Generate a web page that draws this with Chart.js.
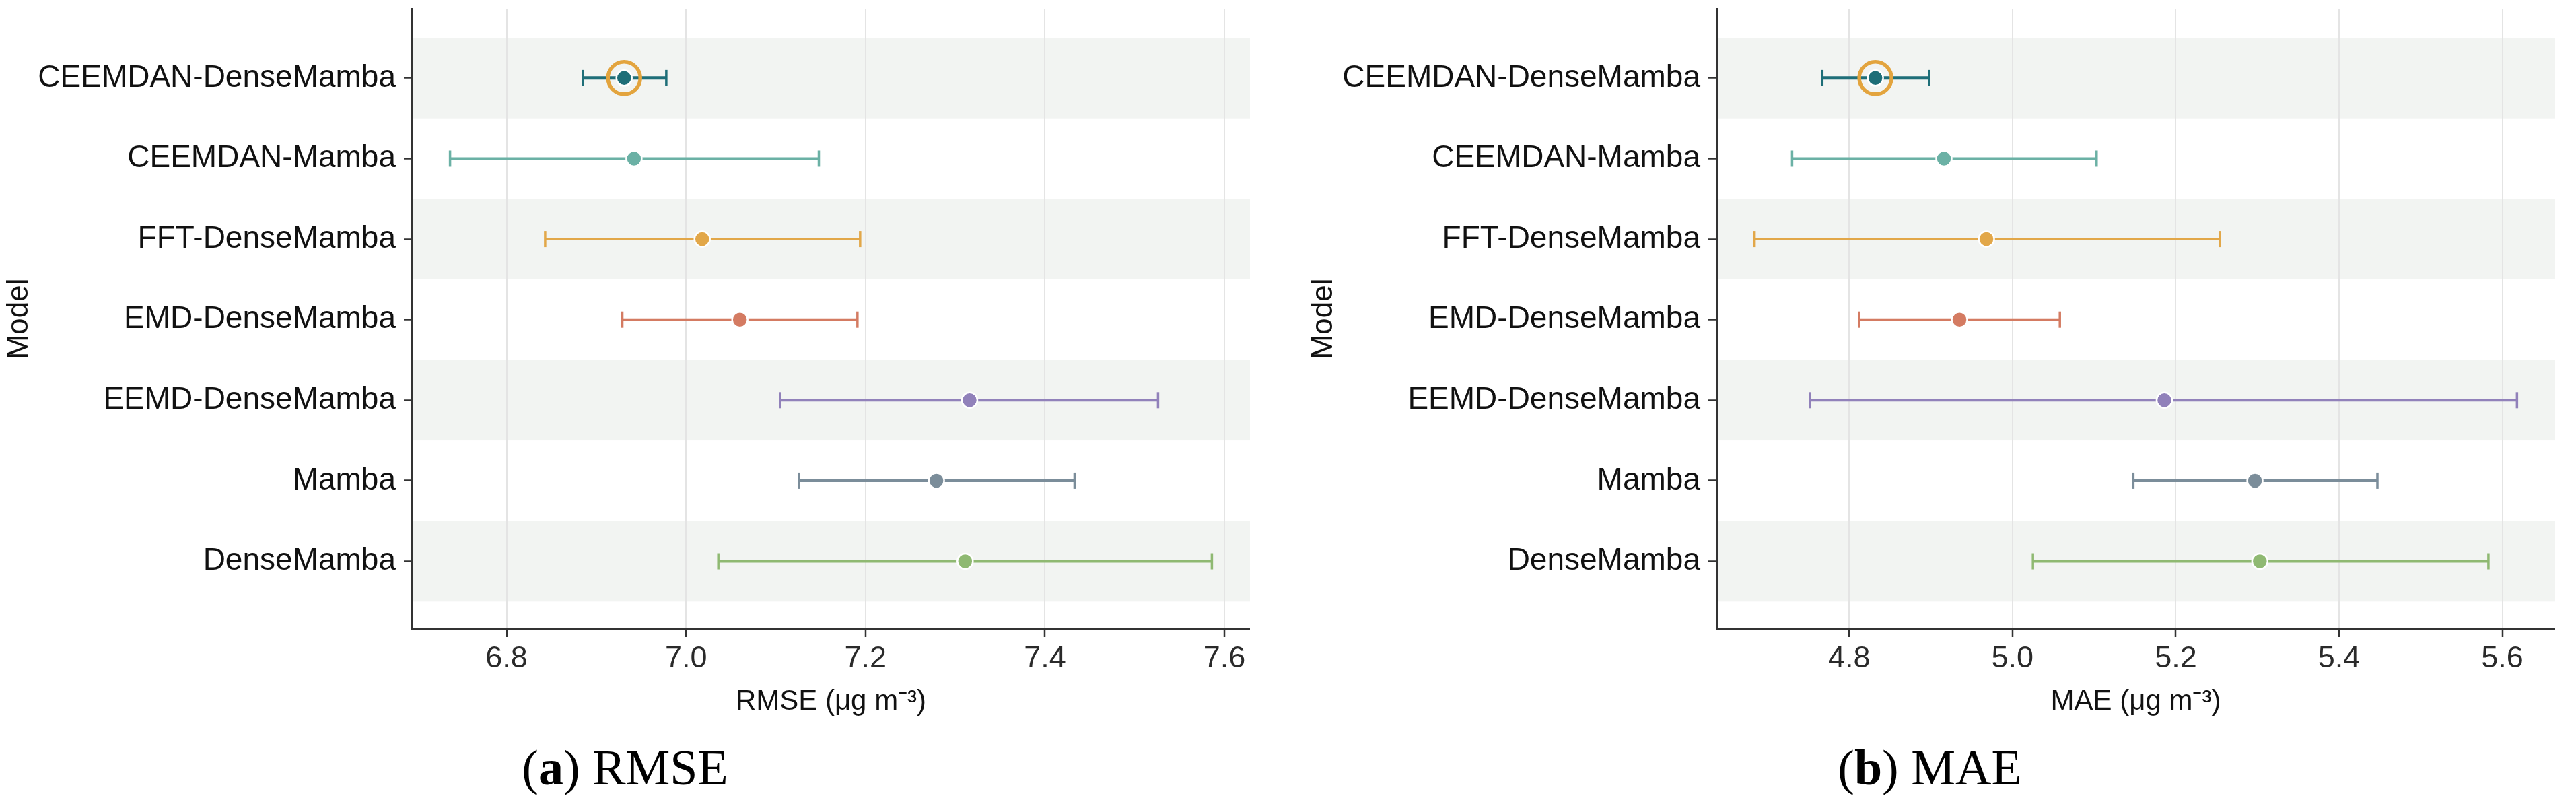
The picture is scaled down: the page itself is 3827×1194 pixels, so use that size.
<!DOCTYPE html>
<html>
<head>
<meta charset="utf-8">
<script src="https://cdn.jsdelivr.net/npm/chart.js@4.4.1/dist/chart.umd.min.js"></script>
<style>
  html, body { margin: 0; padding: 0; background: #ffffff; }
  body { width: 3827px; height: 1194px; position: relative; overflow: hidden; }
  canvas { position: absolute; top: 0; }
  .cap { position: absolute; top: 1103px; font-family: 'Liberation Serif', 'DejaVu Serif', serif; font-size: 74px; line-height: 74px; color: #000; text-align: center; }
</style>
</head>
<body>
<canvas id="rmse" width="1857" height="1080" style="left:0px"></canvas>
<canvas id="mae" width="1858" height="1080" style="left:1938px"></canvas>
<div class="cap" style="left:0px;width:1857px">(<b>a</b>) RMSE</div>
<div class="cap" style="left:1938px;width:1858px">(<b>b</b>) MAE</div>
<script>
// ---------- data ----------
const models = ['CEEMDAN-DenseMamba', 'CEEMDAN-Mamba', 'FFT-DenseMamba', 'EMD-DenseMamba', 'EEMD-DenseMamba', 'Mamba', 'DenseMamba'];
const highlightModel = 'CEEMDAN-DenseMamba';

const rmseMean = [6.931, 6.942, 7.018, 7.060, 7.316, 7.279, 7.311];
const rmseLow  = [6.885, 6.737, 6.843, 6.929, 7.105, 7.126, 7.036];
const rmseHigh = [6.978, 7.148, 7.194, 7.191, 7.526, 7.433, 7.586];

const maeMean = [4.832, 4.916, 4.968, 4.935, 5.186, 5.297, 5.303];
const maeLow  = [4.767, 4.730, 4.684, 4.812, 4.752, 5.148, 5.025];
const maeHigh = [4.898, 5.103, 5.254, 5.058, 5.618, 5.447, 5.583];

const rmseTicks = [6.8, 7.0, 7.2, 7.4, 7.6];
const maeTicks  = [4.8, 5.0, 5.2, 5.4, 5.6];

const rmseTitle = 'RMSE (\u03BCg m\u207B\u00B3)';
const maeTitle  = 'MAE (\u03BCg m\u207B\u00B3)';
const yTitle = 'Model';

// ---------- styles ----------
const modelColors = ['#1E6E78', '#6BB1A5', '#E2A749', '#D47B62', '#9181BA', '#7B8D9A', '#8FB972'];
const ringColor = '#E3A43E';
const bandColor = '#F2F4F2';
const fontFam = "'Liberation Sans', Arial, Helvetica, sans-serif";

const bandPlugin = {
  id: 'bands',
  beforeDraw(chart) {
    const { ctx, chartArea, scales } = chart;
    const y = scales.y;
    ctx.save();
    ctx.fillStyle = bandColor;
    models.forEach((m, i) => {
      if (i % 2 !== 0) return;
      const a = y.getPixelForValue(i - 0.5);
      const b = y.getPixelForValue(i + 0.5);
      ctx.fillRect(chartArea.left, Math.min(a, b), chartArea.right - chartArea.left, Math.abs(b - a));
    });
    ctx.restore();
  }
};

function makeChart(id, means, lows, highs, ticks, title) {
  const lo = Math.min(...lows), hi = Math.max(...highs);
  const pad = (hi - lo) * 0.05;
  const hIdx = models.indexOf(highlightModel);

  const datasets = [];
  // mean points (on top)
  datasets.push({
    type: 'scatter',
    data: means.map((v, i) => ({ x: v, y: i })),
    pointRadius: 11.5,
    pointBackgroundColor: modelColors,
    pointBorderColor: '#ffffff',
    pointBorderWidth: 2.5,
    showLine: false
  });
  // highlight ring
  datasets.push({
    type: 'scatter',
    data: [{ x: means[hIdx], y: hIdx }],
    pointRadius: 24,
    pointBackgroundColor: 'rgba(0,0,0,0)',
    pointBorderColor: ringColor,
    pointBorderWidth: 5.5,
    showLine: false
  });
  // error bars
  models.forEach((m, i) => {
    datasets.push({
      type: 'scatter',
      data: [{ x: lows[i], y: i }, { x: highs[i], y: i }],
      showLine: true,
      borderColor: modelColors[i],
      borderWidth: i === hIdx ? 5 : 4,
      pointStyle: 'line',
      rotation: 90,
      pointRadius: 12,
      pointBorderColor: modelColors[i],
      pointBorderWidth: 3.5
    });
  });

  return new Chart(document.getElementById(id), {
    type: 'scatter',
    data: { datasets },
    plugins: [bandPlugin],
    options: {
      responsive: false,
      animation: false,
      devicePixelRatio: 1,
      layout: { autoPadding: false, padding: { top: 13, left: 0, right: 0, bottom: 0 } },
      plugins: { legend: { display: false }, tooltip: { enabled: false } },
      scales: {
        x: {
          type: 'linear',
          min: lo - pad,
          max: hi + pad,
          afterBuildTicks: s => { s.ticks = ticks.map(v => ({ value: v })); },
          afterFit: s => { s.height = 146; s.paddingLeft = 0; s.paddingRight = 0; },
          ticks: {
            callback: v => Number(v).toFixed(1),
            font: { family: fontFam, size: 45 },
            color: '#2a2a2a',
            padding: 6,
            maxRotation: 0,
            autoSkip: false
          },
          grid: { color: '#E4E4E4', lineWidth: 2, tickColor: '#333333', tickLength: 12, tickWidth: 2.5, drawOnChartArea: true },
          border: { color: '#333333', width: 3 },
          title: { display: true, text: title, font: { family: fontFam, size: 42 }, color: '#111111', padding: { top: 0, bottom: 12 } }
        },
        y: {
          type: 'linear',
          reverse: true,
          min: -0.86,
          max: 6.84,
          afterBuildTicks: s => { s.ticks = models.map((m, i) => ({ value: i })); },
          afterFit: s => { s.width = 612; s.paddingTop = 0; s.paddingBottom = 0; },
          ticks: {
            callback: v => models[v],
            font: { family: fontFam, size: 46 },
            color: '#111111',
            padding: 12,
            autoSkip: false
          },
          grid: { drawOnChartArea: false, tickColor: '#333333', tickLength: 12, tickWidth: 2.5 },
          border: { color: '#333333', width: 3 },
          title: { display: true, text: yTitle, font: { family: fontFam, size: 44 }, color: '#111111', padding: { top: 2, bottom: 0 } }
        }
      }
    }
  });
}

makeChart('rmse', rmseMean, rmseLow, rmseHigh, rmseTicks, rmseTitle);
makeChart('mae', maeMean, maeLow, maeHigh, maeTicks, maeTitle);
</script>
</body>
</html>
